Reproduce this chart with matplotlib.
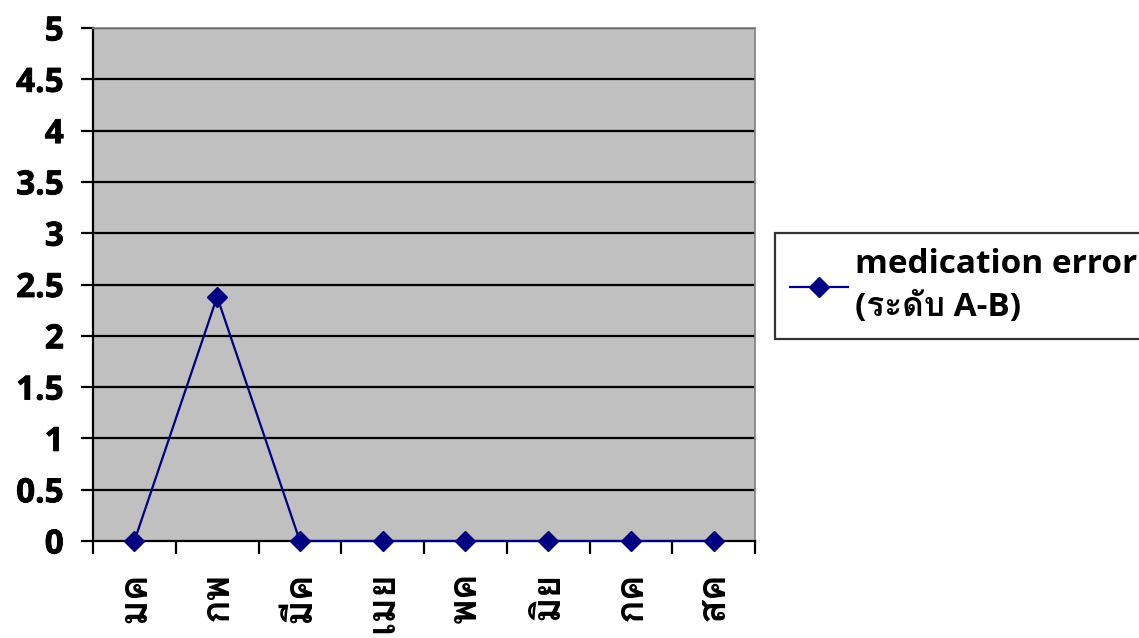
import matplotlib
matplotlib.use("Agg")
import matplotlib.pyplot as plt
from matplotlib import font_manager, patheffects
from matplotlib.ft2font import FT2Font
from matplotlib.lines import Line2D

months = ["มค", "กพ", "มีค", "เมย", "พค", "มิย", "กค", "สค"]
values = [0, 2.38, 0, 0, 0, 0, 0, 0]
series_name = "medication error\n(ระดับ A-B)"
y_ticks = [0, 0.5, 1, 1.5, 2, 2.5, 3, 3.5, 4, 4.5, 5]
y_tick_labels = ["0", "0.5", "1", "1.5", "2", "2.5", "3", "3.5", "4", "4.5", "5"]


def thai_family():
    """Return (family name, has bold face) for an installed Thai-capable font."""
    found = {}
    for fe in font_manager.fontManager.ttflist:
        try:
            cmap = FT2Font(fe.fname).get_charmap()
        except Exception:
            continue
        if 0x0E21 in cmap and 0x0E14 in cmap:
            w = fe.weight if isinstance(fe.weight, int) else \
                font_manager.weight_dict.get(str(fe.weight), 400)
            found.setdefault(fe.name, set()).add(w)
    if not found:
        return None, False
    bold = [n for n, ws in found.items() if max(ws) >= 600]
    if bold:
        return bold[0], True
    return next(iter(found)), False


thai, thai_bold = thai_family()
families = ["Open Sans"] + ([thai] if thai else []) + ["DejaVu Sans"]
plt.rcParams["font.family"] = families


def heavier(width):
    return [patheffects.withStroke(linewidth=width, foreground="black")]


# fake-bold outline for glyphs whose family has no bold face
label_fx = [] if thai_bold else heavier(2.0)
legend_fx = [] if thai_bold else heavier(0.9)

fig = plt.figure(figsize=(11.39, 6.38), dpi=100)
ax = fig.add_axes([93 / 1139, 1 - 541 / 638, (755 - 93) / 1139, (541 - 28) / 638])
ax.set_facecolor("#C0C0C0")

x = list(range(len(months)))
ax.plot(x, values, color="#000080", lw=1.6, marker="D", ms=10,
        markerfacecolor="#000080", markeredgecolor="#000080", zorder=5,
        clip_on=False)

ax.set_xlim(-0.5, len(months) - 0.5)
ax.set_ylim(0, 5)
ax.set_yticks(y_ticks)
ax.set_yticklabels(y_tick_labels, fontsize=24, fontweight="bold")
for t in ax.get_yticklabels():
    t.set_path_effects(heavier(0.6))
for yv in y_ticks[1:]:
    ax.axhline(yv, color="black", lw=1.6, zorder=2)

# category boundaries carry the tick marks, labels sit at category centres
ax.set_xticks([i - 0.5 for i in range(len(months) + 1)])
ax.set_xticklabels([])
ax.set_xticks(x, minor=True)
ax.set_xticklabels(months, minor=True, rotation=90, fontsize=28,
                   fontweight="bold", va="top", ha="center")
for t in ax.get_xticklabels(minor=True):
    t.set_path_effects(label_fx)
ax.tick_params(axis="x", which="minor", length=0, pad=22)
ax.tick_params(axis="x", which="major", length=9, width=1.6, direction="out")
ax.tick_params(axis="y", length=9, width=1.6, direction="out", pad=12)

for side in ("top", "right"):
    ax.spines[side].set_color("#808080")
    ax.spines[side].set_linewidth(1.2)
for side in ("left", "bottom"):
    ax.spines[side].set_color("black")
    ax.spines[side].set_linewidth(1.6)

handle = Line2D([], [], color="#000080", lw=1.6, marker="D", ms=10,
                markerfacecolor="#000080")
leg = fig.legend([handle], [series_name], loc="upper left",
                 bbox_to_anchor=(775 / 1139, 1 - 233 / 638),
                 frameon=True, fancybox=False, edgecolor="black",
                 prop={"size": 24, "weight": "bold"},
                 handlelength=1.75, handletextpad=0.2, borderpad=0.45,
                 borderaxespad=0)
leg.get_frame().set_linewidth(1.6)
for t in leg.get_texts():
    t.set_linespacing(1.4)
    t.set_path_effects(legend_fx)

fig.savefig("out.png", dpi=100, facecolor="white")
